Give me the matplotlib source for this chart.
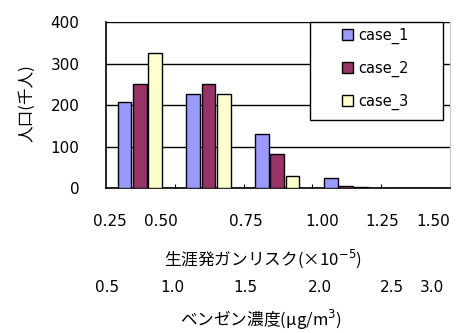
import matplotlib
matplotlib.use("Agg")
import matplotlib.pyplot as plt
from matplotlib.patches import Patch, Rectangle

plt.rcParams['font.family'] = ['DejaVu Sans', 'Noto Sans CJK JP']

# population (thousands) per risk class
cases = ['case_1', 'case_2', 'case_3']
case_1 = [207, 226, 130, 24, 0]
case_2 = [250, 250, 82, 4, 0]
case_3 = [325, 226, 29, 3, 0]
colors = ['#9999FF', '#993366', '#FFFFCC']

risk_labels = ['0.25', '0.50', '0.75', '1.00', '1.25', '1.50']
conc_labels = ['0.5', '1.0', '1.5', '2.0', '2.5', '3.0']

W, H = 472, 333
fig = plt.figure(figsize=(W / 100, H / 100), dpi=100)
ax = fig.add_axes([106 / W, 1 - 188 / H, 344 / W, 166 / H])

x = range(len(case_1))
for i, (vals, c) in enumerate(zip([case_1, case_2, case_3], colors)):
    pos = [k + (i - 1) * 0.22 - 0.01 for k in x]
    ax.bar(pos, vals, width=0.2, color=c, edgecolor='black', linewidth=1.0, zorder=3)

ax.set_xlim(-0.5, len(case_1) - 0.5)
ax.set_ylim(0, 400)
ax.set_yticks([0, 100, 200, 300, 400])
ax.tick_params(axis='y', length=0, pad=19, labelsize=11)
ax.set_xticks([k + 0.5 for k in range(len(case_1) - 1)])
ax.tick_params(axis='x', direction='in', length=3, labelbottom=False)
ax.grid(axis='y', color='black', linewidth=1.0, zorder=0)
ax.spines['top'].set_visible(False)
ax.spines['right'].set_color('#c8c8c8')
ax.spines['left'].set_linewidth(1.2)
ax.spines['bottom'].set_linewidth(1.2)

# legend box drawn separately so the entries sit centred inside it
ax.add_patch(Rectangle((0.593, 0.41), 0.387, 0.59, transform=ax.transAxes,
                       facecolor='white', edgecolor='black', linewidth=1.0,
                       zorder=4, clip_on=False))
handles = [Patch(facecolor=c, edgecolor='black', label=n) for c, n in zip(colors, cases)]
leg = ax.legend(handles=handles, loc='center', bbox_to_anchor=(0.783, 0.717),
                fontsize=10.5, frameon=False,
                handlelength=0.75, handleheight=0.75, handletextpad=0.4,
                labelspacing=1.15, borderpad=0, borderaxespad=0)
leg.set_zorder(5)

# two rows of class labels under the axis
risk_x = [110, 161, 246, 322, 382, 433]
conc_x = [107, 172, 245, 320, 392, 432]
for t, px in zip(risk_labels, risk_x):
    fig.text(px / W, 1 - 222 / H, t, ha='center', va='center', fontsize=11)
for t, px in zip(conc_labels, conc_x):
    fig.text(px / W, 1 - 288 / H, t, ha='center', va='center', fontsize=11)

fig.text(263 / W, 1 - 259 / H, '生涯発ガンリスク(×10$^{-5}$)', ha='center', va='center',
         fontsize=12, family=['Noto Sans CJK JP', 'DejaVu Sans'])
fig.text(261 / W, 1 - 320 / H, 'ベンゼン濃度(μg/m$^{3}$)', ha='center', va='center',
         fontsize=12, family=['Noto Sans CJK JP', 'DejaVu Sans'])
fig.text(27 / W, 1 - 103 / H, '人口(千人)', ha='center', va='center', rotation=90,
         fontsize=12, family=['Noto Sans CJK JP', 'DejaVu Sans'])

fig.savefig('out.png', dpi=100)
